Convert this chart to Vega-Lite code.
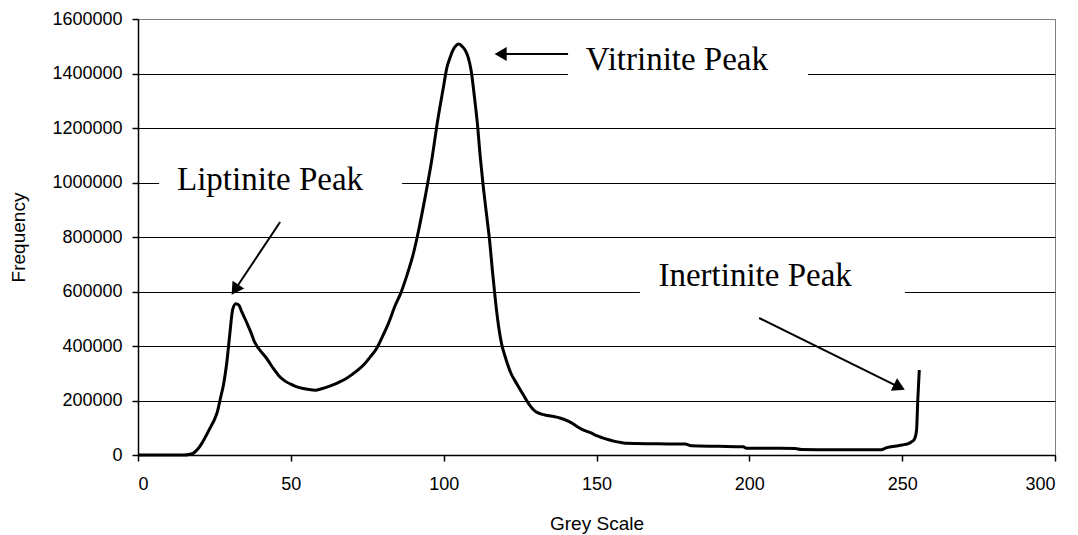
{
  "$schema": "https://vega.github.io/schema/vega-lite/v6.json",
  "width": 917,
  "height": 436,
  "autosize": "none",
  "padding": {"left": 138, "top": 19, "right": 23, "bottom": 80},
  "background": "white",
  "config": {
    "view": {"stroke": "#808080", "strokeWidth": 1},
    "axis": {
      "domainColor": "black", "domainWidth": 1.5, "tickColor": "black", "tickWidth": 1.5, "tickSize": 6,
      "labelFont": "Liberation Sans", "labelFontSize": 18, "labelColor": "black",
      "titleFont": "Liberation Sans", "titleFontSize": 19, "titleFontWeight": "normal", "titleColor": "black"
    }
  },
  "datasets": {
    "curve": [
      {"grey": 0, "freq": 0}, {"grey": 5, "freq": 0}, {"grey": 10, "freq": 0}, {"grey": 15, "freq": 0},
      {"grey": 17, "freq": 3000}, {"grey": 18, "freq": 6000}, {"grey": 19, "freq": 15000}, {"grey": 20, "freq": 28000},
      {"grey": 22, "freq": 65000}, {"grey": 24, "freq": 108000}, {"grey": 25, "freq": 130000}, {"grey": 26, "freq": 160000},
      {"grey": 27, "freq": 210000}, {"grey": 28, "freq": 260000}, {"grey": 29, "freq": 335000}, {"grey": 30, "freq": 440000},
      {"grey": 31, "freq": 535000}, {"grey": 32, "freq": 555000}, {"grey": 33, "freq": 550000}, {"grey": 34, "freq": 524000},
      {"grey": 35, "freq": 500000}, {"grey": 36, "freq": 475000}, {"grey": 37, "freq": 448000}, {"grey": 38, "freq": 418000},
      {"grey": 39, "freq": 398000}, {"grey": 40, "freq": 383000}, {"grey": 42, "freq": 356000}, {"grey": 44, "freq": 322000},
      {"grey": 46, "freq": 292000}, {"grey": 48, "freq": 272000}, {"grey": 50, "freq": 260000}, {"grey": 52, "freq": 250000},
      {"grey": 54, "freq": 244000}, {"grey": 56, "freq": 240000}, {"grey": 58, "freq": 238000}, {"grey": 60, "freq": 243000},
      {"grey": 62, "freq": 250000}, {"grey": 64, "freq": 258000}, {"grey": 66, "freq": 268000}, {"grey": 68, "freq": 280000},
      {"grey": 70, "freq": 295000}, {"grey": 72, "freq": 312000}, {"grey": 74, "freq": 333000}, {"grey": 76, "freq": 360000},
      {"grey": 78, "freq": 390000}, {"grey": 80, "freq": 435000}, {"grey": 82, "freq": 485000}, {"grey": 84, "freq": 545000},
      {"grey": 86, "freq": 595000}, {"grey": 88, "freq": 660000}, {"grey": 90, "freq": 735000}, {"grey": 92, "freq": 835000},
      {"grey": 94, "freq": 950000}, {"grey": 96, "freq": 1075000}, {"grey": 98, "freq": 1225000}, {"grey": 100, "freq": 1355000},
      {"grey": 101, "freq": 1419000}, {"grey": 102, "freq": 1455000}, {"grey": 103, "freq": 1485000}, {"grey": 104, "freq": 1502000},
      {"grey": 105, "freq": 1508000}, {"grey": 106, "freq": 1500000}, {"grey": 107, "freq": 1486000}, {"grey": 108, "freq": 1460000},
      {"grey": 109, "freq": 1410000}, {"grey": 110, "freq": 1320000}, {"grey": 111, "freq": 1220000}, {"grey": 112, "freq": 1090000},
      {"grey": 113, "freq": 980000}, {"grey": 114, "freq": 885000}, {"grey": 115, "freq": 790000}, {"grey": 116, "freq": 670000},
      {"grey": 117, "freq": 560000}, {"grey": 118, "freq": 470000}, {"grey": 119, "freq": 405000}, {"grey": 120, "freq": 365000},
      {"grey": 122, "freq": 300000}, {"grey": 124, "freq": 260000}, {"grey": 126, "freq": 222000}, {"grey": 128, "freq": 185000},
      {"grey": 130, "freq": 160000}, {"grey": 132, "freq": 150000}, {"grey": 134, "freq": 145000}, {"grey": 136, "freq": 141000},
      {"grey": 138, "freq": 136000}, {"grey": 140, "freq": 128000}, {"grey": 142, "freq": 117000}, {"grey": 144, "freq": 102000},
      {"grey": 146, "freq": 90000}, {"grey": 148, "freq": 82000}, {"grey": 150, "freq": 71000}, {"grey": 152, "freq": 63000},
      {"grey": 154, "freq": 56000}, {"grey": 156, "freq": 50000}, {"grey": 158, "freq": 46000}, {"grey": 160, "freq": 43000},
      {"grey": 163, "freq": 42000}, {"grey": 170, "freq": 41000}, {"grey": 179, "freq": 40000}, {"grey": 181, "freq": 34000},
      {"grey": 190, "freq": 32000}, {"grey": 198, "freq": 30000}, {"grey": 199, "freq": 25000}, {"grey": 210, "freq": 24500},
      {"grey": 215, "freq": 24000}, {"grey": 217, "freq": 20000}, {"grey": 230, "freq": 19500}, {"grey": 243, "freq": 19500},
      {"grey": 245, "freq": 27000}, {"grey": 248, "freq": 33000}, {"grey": 250, "freq": 37000}, {"grey": 252, "freq": 42000},
      {"grey": 253, "freq": 48000}, {"grey": 254, "freq": 58000}, {"grey": 254.7, "freq": 90000}, {"grey": 255.1, "freq": 200000},
      {"grey": 255.6, "freq": 312000}
    ],
    "boxes": [
      {"name": "Liptinite", "grey": 6.9, "grey2": 86.4, "freq": 900000, "freq2": 1080000},
      {"name": "Vitrinite", "grey": 140.7, "grey2": 219.2, "freq": 1300000, "freq2": 1500000},
      {"name": "Inertinite", "grey": 164.2, "grey2": 250.9, "freq": 520000, "freq2": 710000}
    ],
    "arrows": [
      {"name": "Liptinite", "grey": 46.5, "freq": 855000, "grey2": 32.1, "freq2": 612800, "angle": 213.6},
      {"name": "Vitrinite", "grey": 140.7, "freq": 1471500, "grey2": 119.3, "freq2": 1471500, "angle": 270},
      {"name": "Inertinite", "grey": 203.2, "freq": 502700, "grey2": 248.5, "freq2": 252100, "angle": 116.2}
    ],
    "labels": [
      {"text": "Liptinite Peak", "grey": 43.2, "freq": 972500},
      {"text": "Vitrinite Peak", "grey": 176.3, "freq": 1412800},
      {"text": "Inertinite Peak", "grey": 201.9, "freq": 620200}
    ]
  },
  "encoding": {
    "x": {
      "field": "grey", "type": "quantitative",
      "scale": {"domain": [0, 300], "nice": false, "zero": false},
      "axis": {"title": "Grey Scale", "values": [0, 50, 100, 150, 200, 250, 300], "grid": false, "labelPadding": 14, "titleX": 458.5, "titleY": 68, "titleBaseline": "middle", "titleAlign": "center"}
    },
    "y": {
      "field": "freq", "type": "quantitative",
      "scale": {"domain": [0, 1600000], "nice": false},
      "axis": {"title": "Frequency", "values": [0, 200000, 400000, 600000, 800000, 1000000, 1200000, 1400000, 1600000], "format": "d", "grid": true, "gridWidth": 1.2, "gridColor": {"condition": {"test": "datum.value == 1600000", "value": "#808080"}, "value": "black"}, "labelPadding": 10, "titleX": -120, "titleY": 218, "titleBaseline": "middle", "titleAlign": "center"}
    }
  },
  "layer": [
    {
      "data": {"name": "boxes"},
      "mark": {"type": "rect", "fill": "white", "stroke": null},
      "encoding": {"x2": {"field": "grey2"}, "y2": {"field": "freq2"}}
    },
    {
      "data": {"name": "curve"},
      "mark": {"type": "line", "color": "black", "strokeWidth": 3, "interpolate": "monotone"}
    },
    {
      "data": {"name": "arrows"},
      "mark": {"type": "rule", "color": "black", "strokeWidth": 2},
      "encoding": {"x2": {"field": "grey2"}, "y2": {"field": "freq2"}}
    },
    {
      "data": {"name": "arrows"},
      "mark": {"type": "point", "shape": "triangle", "filled": true, "color": "black", "size": 196, "opacity": 1},
      "encoding": {
        "x": {"field": "grey2", "type": "quantitative"},
        "y": {"field": "freq2", "type": "quantitative"},
        "angle": {"field": "angle", "type": "quantitative", "scale": null}
      }
    },
    {
      "data": {"name": "labels"},
      "mark": {"type": "text", "font": "Liberation Serif", "fontSize": 33, "color": "black", "align": "center", "baseline": "alphabetic"},
      "encoding": {"text": {"field": "text"}}
    }
  ]
}
